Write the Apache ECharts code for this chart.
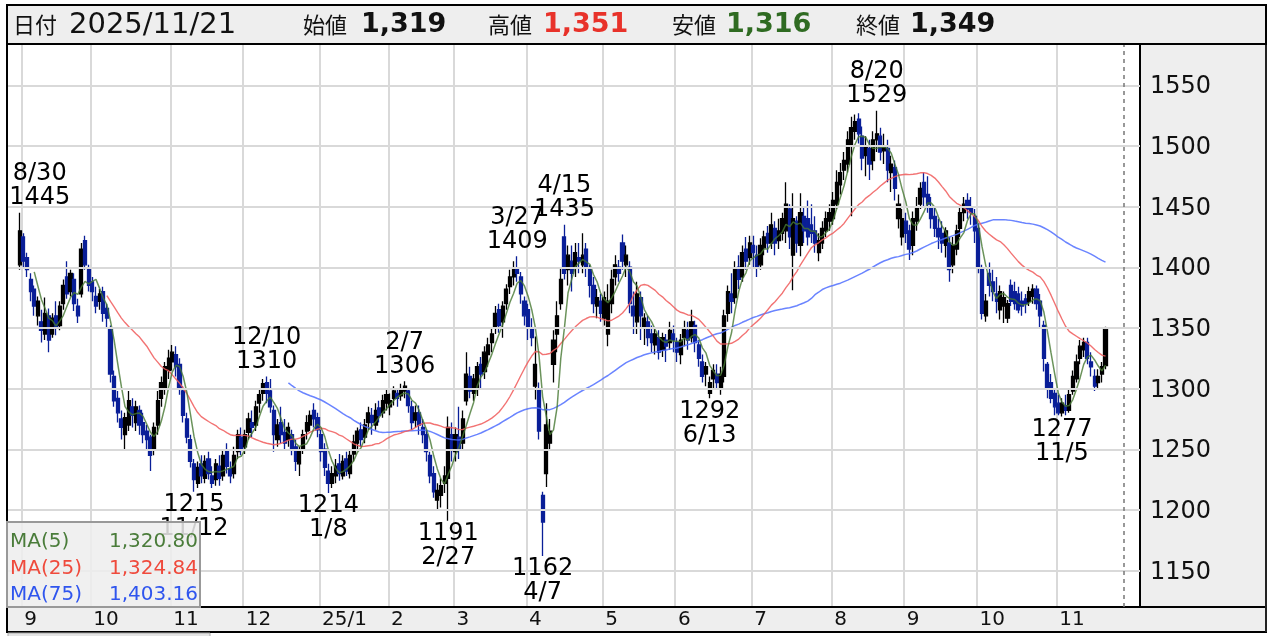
<!DOCTYPE html>
<html><head><meta charset="utf-8">
<script src="https://cdn.jsdelivr.net/npm/echarts@6/dist/echarts.min.js"></script>
<style>html,body{margin:0;padding:0;background:#fff}#c{width:1268px;height:636px}</style>
</head><body><div id="c"></div>
<script>
// ---- data ----
const monthNames = ['2024/8','2024/9','2024/10','2024/11','2024/12','2025/1','2025/2','2025/3','2025/4','2025/5','2025/6','2025/7','2025/8','2025/9','2025/10','2025/11'];
const monthLabels = ['', '9','10','11','12','25/1','2','3','4','5','6','7','8','9','10','11'];
const monthDays = [
 [30],
 [2,3,4,5,6,9,10,11,12,13,17,18,19,20,24,25,26,27,30],
 [1,2,3,4,7,8,9,10,11,15,16,17,18,21,22,23,24,25,28,29,30,31],
 [1,5,6,7,8,11,12,13,14,15,18,19,20,21,22,25,26,27,28,29],
 [2,3,4,5,6,9,10,11,12,13,16,17,18,19,20,23,24,25,26,27,30],
 [6,7,8,9,10,14,15,16,17,20,21,22,23,24,27,28,29,30,31],
 [3,4,5,6,7,10,12,13,14,17,18,19,20,21,25,26,27,28],
 [3,4,5,6,7,10,11,12,13,14,17,18,19,21,24,25,26,27,28,31],
 [1,2,3,4,7,8,9,10,11,14,15,16,17,18,21,22,23,24,25,28,30],
 [1,2,7,8,9,12,13,14,15,16,19,20,21,22,23,26,27,28,29,30],
 [2,3,4,5,6,9,10,11,12,13,16,17,18,19,20,23,24,25,26,27,30],
 [1,2,3,4,7,8,9,10,11,14,15,16,17,18,22,23,24,25,28,29,30,31],
 [1,4,5,6,7,8,12,13,14,15,18,19,20,21,22,25,26,27,28,29],
 [1,2,3,4,5,8,9,10,11,12,16,17,18,19,22,24,25,26,29,30],
 [1,2,3,6,7,8,9,10,14,15,16,17,20,21,22,23,24,27,28,29,30,31],
 [4,5,6,7,10,11,12,13,14,17,18,19,20,21]
];
const opens = [
 1402,
 1425,1408,1390,1382,1360,1355,1345,1360,1345,1360,1352,1370,1392,1380,1390,1368,1378,1422,1398,
 1388,1376,1372,1380,1366,1350,1310,1292,1275,1262,1270,1285,1272,1282,1272,1265,1260,1250,1270,1292,1300,1315,
 1322,1328,1320,1298,1275,1258,1238,1222,1238,1226,1242,1228,1225,1236,1228,1248,1234,1230,1248,1260,
 1252,1264,1272,1270,1288,1296,1305,1298,1282,1258,1272,1264,1258,1262,1252,1238,1250,1265,1270,1282,1276,
 1262,1250,1232,1222,1228,1238,1228,1242,1230,1246,1255,1266,1260,1272,1278,1270,1284,1280,1288,
 1285,1292,1296,1294,1298,1298,1285,1274,1280,1268,1262,1245,1230,1208,1212,1222,1226,1262,
 1248,1260,1255,1290,1310,1296,1300,1320,1314,1328,1338,1350,1365,1355,1370,1384,1392,1398,1392,1372,
 1365,1350,1302,1300,1212,1230,1255,1320,1345,1370,1425,1398,1405,1400,1408,1402,1415,1398,1385,1368,1372,
 1358,1345,1370,1392,1400,1420,1402,1400,1368,1355,1375,1350,1355,1345,1336,1342,1332,1340,1338,1345,
 1338,1328,1342,1348,1342,1352,1336,1322,1312,1296,1308,1312,1300,1310,1362,1378,1375,1400,1392,1415,1408,
 1418,1410,1402,1416,1428,1420,1432,1422,1428,1430,1448,1410,1438,1418,1442,1440,1435,1430,1412,1420,1430,1438,
 1440,1452,1468,1480,1485,1500,1512,1522,1508,1492,1498,1488,1505,1508,1496,1498,1478,1482,1440,1425,
 1438,1430,1418,1438,1452,1470,1460,1450,1442,1432,1428,1418,1420,1402,1415,1432,1445,1455,1450,1442,
 1432,1398,1360,1395,1388,1378,1365,1368,1358,1385,1380,1378,1372,1374,1372,1376,1382,1372,1352,1320,1305,1296,
 1288,1280,1286,1282,1298,1308,1325,1332,1338,1322,1310,1305,1312,1319
];
const closes = [
 1430,
 1405,1398,1380,1368,1372,1348,1362,1340,1358,1350,1368,1385,1378,1395,1370,1360,1415,1402,1385,
 1380,1368,1378,1362,1358,1312,1290,1280,1268,1276,1290,1278,1285,1270,1262,1258,1245,1268,1290,1305,1318,1325,
 1330,1318,1300,1278,1260,1240,1225,1235,1228,1240,1230,1222,1238,1226,1245,1236,1228,1245,1262,1250,
 1262,1275,1268,1285,1295,1304,1296,1285,1262,1270,1262,1255,1268,1250,1240,1248,1262,1272,1278,1275,1266,
 1248,1235,1222,1230,1236,1230,1240,1232,1245,1256,1265,1258,1270,1280,1272,1282,1278,1290,1295,
 1290,1298,1292,1300,1302,1286,1272,1280,1270,1262,1248,1228,1215,1216,1220,1228,1268,1250,
 1262,1250,1275,1312,1298,1308,1318,1312,1330,1336,1345,1362,1352,1368,1382,1392,1398,1395,1378,1360,
 1350,1342,1320,1265,1190,1270,1265,1340,1360,1390,1395,1410,1395,1412,1405,1410,1400,1385,1370,1375,1362,
 1375,1372,1390,1402,1395,1405,1410,1370,1360,1378,1360,1358,1342,1338,1345,1330,1342,1335,1348,1340,
 1330,1340,1350,1340,1355,1338,1325,1310,1318,1305,1315,1305,1312,1360,1380,1372,1398,1390,1412,1405,1420,
 1412,1400,1418,1425,1420,1435,1420,1430,1440,1452,1425,1440,1420,1445,1430,1425,1428,1420,1422,1432,1440,1445,
 1455,1470,1478,1488,1505,1515,1520,1510,1490,1500,1485,1505,1510,1495,1500,1480,1485,1465,1452,1440,
 1428,1415,1440,1450,1465,1458,1452,1440,1432,1425,1420,1430,1398,1418,1430,1445,1452,1448,1445,1430,
 1400,1362,1372,1385,1380,1372,1380,1375,1370,1372,1370,1365,1368,1370,1380,1382,1370,1360,1325,1300,1292,1285,
 1280,1288,1282,1295,1310,1322,1335,1338,1325,1318,1302,1310,1318,1349
];
const lows = [
 1398,
 1400,1392,1372,1360,1352,1338,1340,1330,1342,1344,1348,1365,1374,1376,1364,1354,1375,1398,1380,
 1372,1362,1365,1355,1350,1305,1285,1272,1258,1250,1265,1268,1265,1262,1255,1250,1232,1245,1262,1285,1295,1308,
 1315,1310,1295,1272,1255,1235,1215,1218,1222,1222,1225,1218,1220,1220,1224,1230,1222,1226,1242,1245,
 1246,1258,1260,1265,1280,1290,1288,1280,1248,1252,1255,1250,1252,1245,1232,1228,1246,1258,1265,1268,1260,
 1240,1228,1214,1218,1222,1224,1225,1228,1226,1240,1250,1252,1255,1266,1262,1266,1272,1276,1282,
 1278,1286,1285,1290,1292,1280,1266,1268,1262,1255,1240,1222,1210,1200,1202,1214,1191,1240,
 1240,1242,1250,1286,1292,1290,1294,1300,1308,1318,1330,1345,1346,1342,1365,1378,1385,1388,1370,1352,
 1340,1335,1291,1258,1162,1219,1250,1305,1330,1365,1390,1385,1380,1392,1395,1395,1392,1375,1362,1358,1355,
 1352,1335,1362,1385,1388,1398,1392,1362,1345,1345,1340,1336,1335,1330,1328,1324,1326,1322,1332,1330,
 1322,1320,1335,1332,1338,1330,1318,1305,1302,1292,1300,1300,1295,1305,1355,1362,1370,1382,1388,1398,1402,
 1400,1392,1398,1410,1412,1415,1410,1415,1422,1420,1415,1381,1412,1409,1420,1418,1420,1412,1405,1415,1425,1430,
 1435,1448,1460,1472,1478,1442,1505,1502,1480,1475,1472,1480,1495,1488,1485,1470,1462,1455,1432,1418,
 1420,1406,1410,1430,1448,1450,1445,1432,1425,1415,1412,1408,1388,1395,1410,1425,1438,1440,1435,1420,
 1395,1357,1355,1376,1372,1362,1357,1354,1354,1368,1365,1362,1360,1362,1368,1370,1365,1350,1314,1292,1288,1278,
 1278,1277,1278,1280,1295,1305,1320,1326,1320,1310,1298,1300,1305,1316
];
const highs = [
 1445,
 1428,1412,1395,1385,1376,1365,1375,1366,1362,1372,1372,1390,1405,1398,1395,1374,1420,1426,1402,
 1392,1384,1382,1384,1370,1352,1315,1298,1282,1280,1298,1292,1290,1286,1280,1270,1262,1272,1298,1310,1322,1332,
 1336,1335,1325,1302,1280,1262,1242,1240,1245,1245,1248,1236,1242,1245,1250,1255,1240,1252,1266,1268,
 1266,1280,1282,1290,1300,1308,1310,1308,1286,1275,1285,1275,1272,1266,1258,1252,1266,1278,1282,1288,1280,
 1266,1255,1238,1236,1242,1246,1245,1248,1250,1262,1268,1272,1275,1285,1284,1288,1290,1295,1300,
 1296,1302,1300,1304,1306,1300,1290,1286,1286,1275,1266,1248,1236,1222,1226,1236,1277,1272,
 1268,1285,1282,1330,1318,1312,1322,1326,1335,1342,1350,1368,1370,1372,1386,1398,1405,1409,1396,1376,
 1370,1358,1343,1305,1215,1288,1275,1348,1372,1400,1435,1418,1418,1420,1420,1428,1420,1402,1392,1382,1378,
 1380,1386,1398,1410,1406,1427,1418,1405,1380,1388,1380,1362,1360,1352,1350,1348,1346,1345,1355,1352,
 1342,1345,1356,1355,1365,1356,1340,1328,1322,1310,1320,1320,1318,1365,1385,1395,1405,1410,1418,1425,1426,
 1426,1418,1424,1430,1434,1445,1438,1440,1445,1470,1452,1461,1442,1461,1450,1455,1452,1442,1428,1438,1446,1452,
 1462,1480,1486,1495,1512,1524,1526,1527,1516,1508,1505,1512,1529,1515,1510,1505,1492,1488,1460,1448,
 1445,1435,1446,1458,1470,1478,1475,1458,1450,1440,1438,1433,1425,1425,1435,1450,1458,1461,1458,1448,
 1436,1402,1378,1404,1398,1392,1385,1380,1373,1390,1388,1384,1380,1378,1384,1386,1385,1378,1356,1322,1312,1300,
 1295,1292,1295,1300,1315,1328,1340,1342,1342,1330,1316,1316,1322,1351
];
const yTicks = [1150,1200,1250,1300,1350,1400,1450,1500,1550];
const peakHighs = [['2024/8/30',1445],['2024/12/10',1310],['2025/2/7',1306],['2025/3/27',1409],['2025/4/15',1435],['2025/8/20',1529]];
const peakLows = [['2024/11/12',1215],['2025/1/8',1214],['2025/2/27',1191],['2025/4/7',1162],['2025/6/13',1292],['2025/11/5',1277]];
const maLegend = [['MA(5)','1,320.80'],['MA(25)','1,324.84'],['MA(75)','1,403.16']];
const header = {date:'2025/11/21', open:'1,319', high:'1,351', low:'1,316', close:'1,349'};

// ---- build ----
const PAD_L = 3, PAD_R = 9;
const dates = [], monthFirst = {};
monthNames.forEach((m, mi) => monthDays[mi].forEach((d, di) => {
  if (di === 0 && mi > 0) monthFirst[dates.length + PAD_L] = monthLabels[mi];
  dates.push(m + '/' + d);
}));
const cats = [];
for (let i = 0; i < PAD_L; i++) cats.push('L' + i);
dates.forEach(d => cats.push(d));
for (let i = 0; i < PAD_R; i++) cats.push('R' + i);
const N = dates.length;
const ohlc = [];
for (let i = 0; i < N; i++) ohlc.push([i + PAD_L, opens[i], closes[i], lows[i], highs[i]]);
function ma(n) {
  const out = [];
  for (let i = n - 1; i < N; i++) {
    let s = 0; for (let k = i - n + 1; k <= i; k++) s += closes[k];
    out.push([i + PAD_L, s / n]);
  }
  return out;
}
const idxOf = d => dates.indexOf(d) + PAD_L;
const md = d => { const p = d.split('/'); return p[1] + '/' + p[2]; };

const NUM = "'DejaVu Sans', 'Noto Sans CJK JP', sans-serif";
const CJK = "'Noto Sans CJK JP', sans-serif";
const GRID = {left: 7, right: 128, top: 44, bottom: 29};
const UP = '#000000', DOWN = '#0a1f98';

const chart = echarts.init(document.getElementById('c'), null, {renderer: 'canvas'});
const hdrText = (x, text, size, opt) => Object.assign({type: 'text', x: x, y: 25, z: 31,
  style: {text: text, font: (opt && opt.bold ? 'bold ' : '') + size + 'px ' + (opt && opt.cjk ? CJK : NUM),
    fill: (opt && opt.color) || '#111', verticalAlign: 'middle', align: 'left'}});
const legendColors = ['#4a7c3a', '#ef4a3c', '#2f55ee'];

chart.setOption({
  animation: false,
  backgroundColor: '#fff',
  textStyle: {fontFamily: NUM},
  grid: GRID,
  xAxis: {
    type: 'category', data: cats, boundaryGap: true,
    axisLine: {show: true, lineStyle: {color: '#000', width: 2}},
    axisTick: {show: false},
    axisLabel: {
      interval: (i) => monthFirst[i] !== undefined,
      formatter: (v, i) => monthFirst[i] || '',
      align: 'left', margin: 3, fontSize: 20, color: '#111', fontFamily: NUM, padding: [0, 0, 0, 1]
    },
    splitLine: {show: true, interval: (i) => monthFirst[i] !== undefined,
      lineStyle: {color: '#d9d9d9', width: 2}}
  },
  yAxis: {
    type: 'value', position: 'right', min: 1120, max: 1584, scale: true,
    axisLine: {show: true, lineStyle: {color: '#000', width: 2}},
    axisTick: {show: false}, axisLabel: {show: false}, splitLine: {show: false}
  },
  graphic: [
    {type: 'rect', z: -5, shape: {x: 1140, y: 44, width: 126, height: 563}, style: {fill: '#eeeeee'}},
    {type: 'rect', z: -5, shape: {x: 7, y: 607, width: 1259, height: 25}, style: {fill: '#eeeeee', stroke: '#000', lineWidth: 2}},
    {type: 'rect', z: -5, shape: {x: 8, y: 633, width: 202, height: 6}, style: {fill: '#e4e4e4', stroke: '#aaa', lineWidth: 1}},
    {type: 'line', z: 30, shape: {x1: 7, y1: 44, x2: 7, y2: 632}, style: {stroke: '#000', lineWidth: 2}},
    {type: 'line', z: 30, shape: {x1: 1266, y1: 5, x2: 1266, y2: 632}, style: {stroke: '#222', lineWidth: 2}},
    {type: 'rect', z: 30, shape: {x: 7, y: 5, width: 1259, height: 39}, style: {fill: '#eeeeee', stroke: '#000', lineWidth: 2}},
    hdrText(13, '日付', 22, {cjk: true}),
    hdrText(69, header.date, 29),
    hdrText(303, '始値', 22, {cjk: true}),
    hdrText(361, header.open, 27, {bold: true}),
    hdrText(488, '高値', 22, {cjk: true}),
    hdrText(543, header.high, 27, {bold: true, color: '#e8322a'}),
    hdrText(672, '安値', 22, {cjk: true}),
    hdrText(726, header.low, 27, {bold: true, color: '#2f6b22'}),
    hdrText(856, '終値', 22, {cjk: true}),
    hdrText(910, header.close, 27, {bold: true}),
    {type: 'rect', z: 40, shape: {x: 7, y: 522, width: 193, height: 85}, style: {fill: 'rgba(238,238,238,0.86)', stroke: '#999', lineWidth: 2}}
  ].concat(maLegend.map((r, k) => [
    {type: 'text', z: 41, x: 10, y: 542 + k * 26.5, style: {text: r[0], font: '20px ' + NUM, fill: legendColors[k], verticalAlign: 'middle', align: 'left'}},
    {type: 'text', z: 41, x: 198, y: 542 + k * 26.5, style: {text: r[1], font: '20px ' + NUM, fill: legendColors[k], verticalAlign: 'middle', align: 'right'}}
  ]).flat()),
  series: [
    {
      type: 'line', data: [], z: 1, silent: true,
      markLine: {
        silent: true, symbol: 'none', animation: false,
        data: yTicks.map(v => ({yAxis: v, lineStyle: {color: '#d9d9d9', width: 2, type: 'solid'},
          label: {show: true, position: 'end', distance: 10, offset: [0, 2], formatter: String(v), fontSize: 24, color: '#111', fontFamily: NUM}}))
          .concat([{xAxis: 307, lineStyle: {color: '#777', width: 1.5, type: [4, 4]}, label: {show: false}}])
      }
    },
    {
      type: 'candlestick', data: ohlc, encode: {x: 0, y: [1, 2, 3, 4]}, barWidth: 3.6, z: 3,
      itemStyle: {color: UP, color0: DOWN, borderColor: UP, borderColor0: DOWN, borderWidth: 1.3}
    },
    {type: 'line', data: ma(75), showSymbol: false, z: 4, lineStyle: {color: 'rgba(80,110,255,0.85)', width: 1.5}},
    {type: 'line', data: ma(25), showSymbol: false, z: 4, lineStyle: {color: 'rgba(240,90,90,0.85)', width: 1.4}},
    {type: 'line', data: ma(5), showSymbol: false, z: 4, lineStyle: {color: 'rgba(70,120,50,0.8)', width: 1.5}},
    {
      type: 'scatter', z: 6, symbolSize: 0, itemStyle: {color: '#000'},
      data: peakHighs.map((p, k) => ({value: [idxOf(p[0]), p[1]], label: k === 0 ? {offset: [20, 0]} : {}})),
      label: {show: true, position: 'top', distance: 3, formatter: (q) => md(peakHighs[q.dataIndex][0]) + '\n' + peakHighs[q.dataIndex][1],
        fontSize: 24, lineHeight: 24, color: '#000', opacity: 1, fontFamily: NUM}
    },
    {
      type: 'scatter', z: 6, symbolSize: 0, itemStyle: {color: '#000'},
      data: peakLows.map(p => [idxOf(p[0]), p[1]]),
      label: {show: true, position: 'bottom', distance: 1, formatter: (q) => peakLows[q.dataIndex][1] + '\n' + md(peakLows[q.dataIndex][0]),
        fontSize: 24, lineHeight: 24, color: '#000', opacity: 1, fontFamily: NUM}
    }
  ]
});
</script></body></html>
